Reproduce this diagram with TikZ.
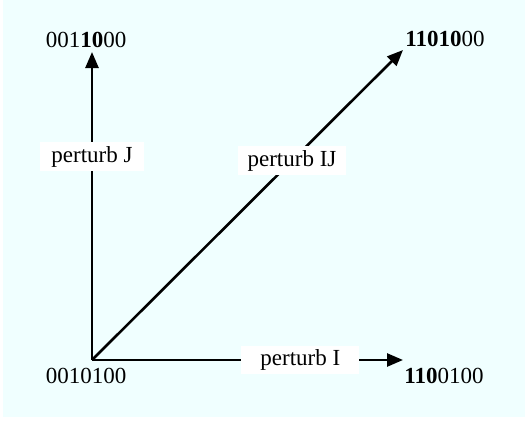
\documentclass[tikz,border=0pt]{standalone}
\usepackage{fontspec}
\setmainfont{Liberation Serif}
\usepackage{xcolor}
\usetikzlibrary{arrows.meta}
\definecolor{azurebg}{RGB}{240,255,255}

\begin{document}
\begin{tikzpicture}[x=1pt,y=-1pt,
  every node/.style={font=\fontsize{23}{27}\selectfont},
  move/.style={line width=2.6pt,-{Triangle[length=16pt,width=13pt]}},
  tag/.style={fill=white,inner ysep=4pt}]
  \useasboundingbox (0,0) rectangle (525,423);
  \fill[azurebg] (3,0) rectangle (525,417);
  % start point and arrow tips
  \coordinate (start) at (92,360);
  \coordinate (tipJ)  at (92,52);
  \coordinate (tipIJ) at (403,50);
  \coordinate (tipI)  at (403,360);
  % the four strings
  \node (sBase) at (86,376) {0010100};
  \node (sJ)    at (86,40)  {001\textbf{10}00};
  \node (sIJ)   at (445,39) {\textbf{11010}00};
  \node (sI)    at (444,376) {\textbf{110}0100};
  % moves
  \draw[move] (start) -- node[tag,inner xsep=11pt,pos=0.66] (lblJ) {perturb J} (tipJ);
  \draw[move] (start) -- node[tag,inner xsep=10pt,pos=0.643] (lblIJ) {perturb IJ} (tipIJ);
  \draw[move] (start) -- node[tag,inner xsep=19pt,pos=0.67] (lblI) {perturb I} (tipI);
\end{tikzpicture}
\end{document}
